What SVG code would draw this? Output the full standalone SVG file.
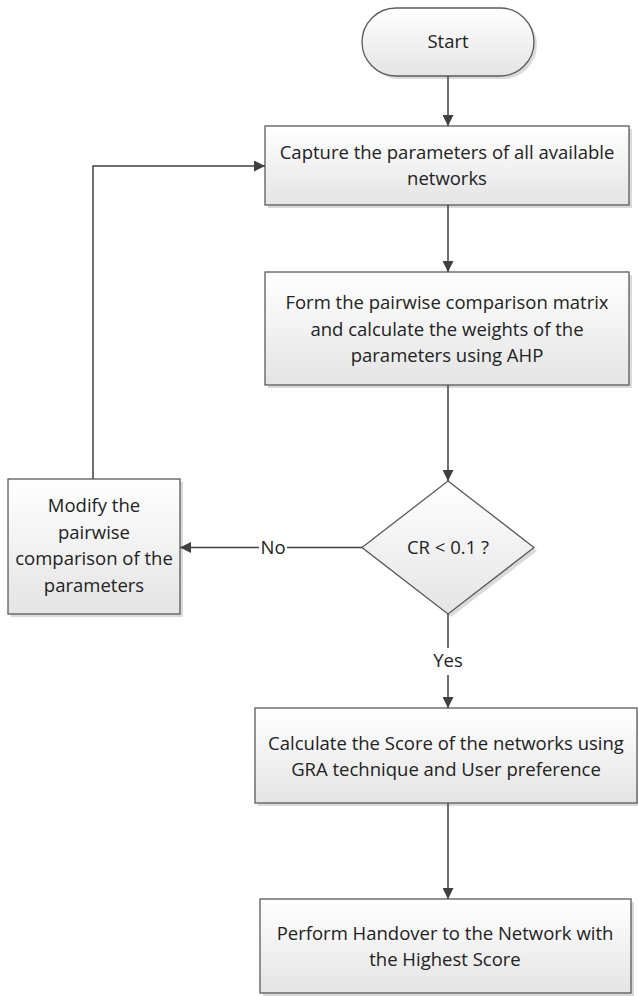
<svg xmlns="http://www.w3.org/2000/svg" width="638" height="996" viewBox="0 0 638 996">
<defs>
<linearGradient id="g" x1="0" y1="0" x2="0" y2="1">
<stop offset="0" stop-color="#ffffff"/>
<stop offset="1" stop-color="#e4e4e4"/>
</linearGradient>
<marker id="ah" viewBox="0 0 10 10" refX="10" refY="5" markerWidth="11" markerHeight="11" markerUnits="userSpaceOnUse" orient="auto">
<path d="M0,0 L10,5 L0,10 z" fill="#404040"/>
</marker>
</defs>
<style>
.shape{fill:url(#g);stroke:#5a5a5a;stroke-width:1.3}
.shadow{fill:#dadada;stroke:none}
.t{font-family:"Open Sans","Liberation Sans",sans-serif;font-size:18.5px;fill:#222;text-anchor:middle}
.c{fill:none;stroke:#404040;stroke-width:1.5;marker-end:url(#ah)}
.cn{fill:none;stroke:#404040;stroke-width:1.5}
.lbl{fill:#ffffff}
</style>
<g id="start">
<rect class="shadow" x="365" y="11" width="172" height="68" rx="34"/>
<rect class="shape" x="362" y="8" width="172" height="68" rx="34"/>
<text class="t" x="448" y="48">Start</text>
</g>
<g id="capture">
<rect class="shadow" x="268" y="129" width="364" height="79"/>
<rect class="shape" x="265" y="126" width="364" height="79"/>
<text class="t" x="447" y="159">Capture the parameters of all available</text>
<text class="t" x="447" y="185">networks</text>
</g>
<g id="form">
<rect class="shadow" x="268" y="275" width="364" height="113"/>
<rect class="shape" x="265" y="272" width="364" height="113"/>
<text class="t" x="447" y="309">Form the pairwise comparison matrix</text>
<text class="t" x="447" y="335.5">and calculate the weights of the</text>
<text class="t" x="447" y="362">parameters using AHP</text>
</g>
<g id="decision">
<polygon class="shadow" points="451,484 537,551 451,617 365,551"/>
<polygon class="shape" points="448,481 534,547.5 448,614 362,547.5"/>
<text class="t" x="448" y="554">CR &lt; 0.1 ?</text>
</g>
<g id="modify">
<rect class="shadow" x="11" y="482" width="172" height="135"/>
<rect class="shape" x="8" y="479" width="172" height="135"/>
<text class="t" x="94" y="512">Modify the</text>
<text class="t" x="94" y="539">pairwise</text>
<text class="t" x="94" y="565">comparison of the</text>
<text class="t" x="94" y="592">parameters</text>
</g>
<g id="calculate">
<rect class="shadow" x="258" y="711" width="380" height="95"/>
<rect class="shape" x="255" y="708" width="382" height="95"/>
<text class="t" x="446" y="750">Calculate the Score of the networks using</text>
<text class="t" x="446" y="776">GRA technique and User preference</text>
</g>
<g id="handover">
<rect class="shadow" x="263" y="902" width="371" height="94"/>
<rect class="shape" x="260" y="899" width="371" height="94"/>
<text class="t" x="445" y="940">Perform Handover to the Network with</text>
<text class="t" x="445" y="966">the Highest Score</text>
</g>
<g id="connectors">
<line class="c" x1="448" y1="76" x2="448" y2="126"/>
<line class="c" x1="448" y1="205" x2="448" y2="272"/>
<line class="c" x1="448" y1="385" x2="448" y2="481"/>
<line class="c" x1="362" y1="547.5" x2="180" y2="547.5"/>
<polyline class="c" points="93,479 93,166 265,166"/>
<line class="cn" x1="448" y1="614" x2="448" y2="648"/>
<line class="c" x1="448" y1="675" x2="448" y2="708"/>
<line class="c" x1="448" y1="803" x2="448" y2="899"/>
<rect class="lbl" x="259" y="537" width="28" height="21"/>
<text class="t" x="273" y="554">No</text>
<text class="t" x="448" y="667">Yes</text>
</g>
</svg>
